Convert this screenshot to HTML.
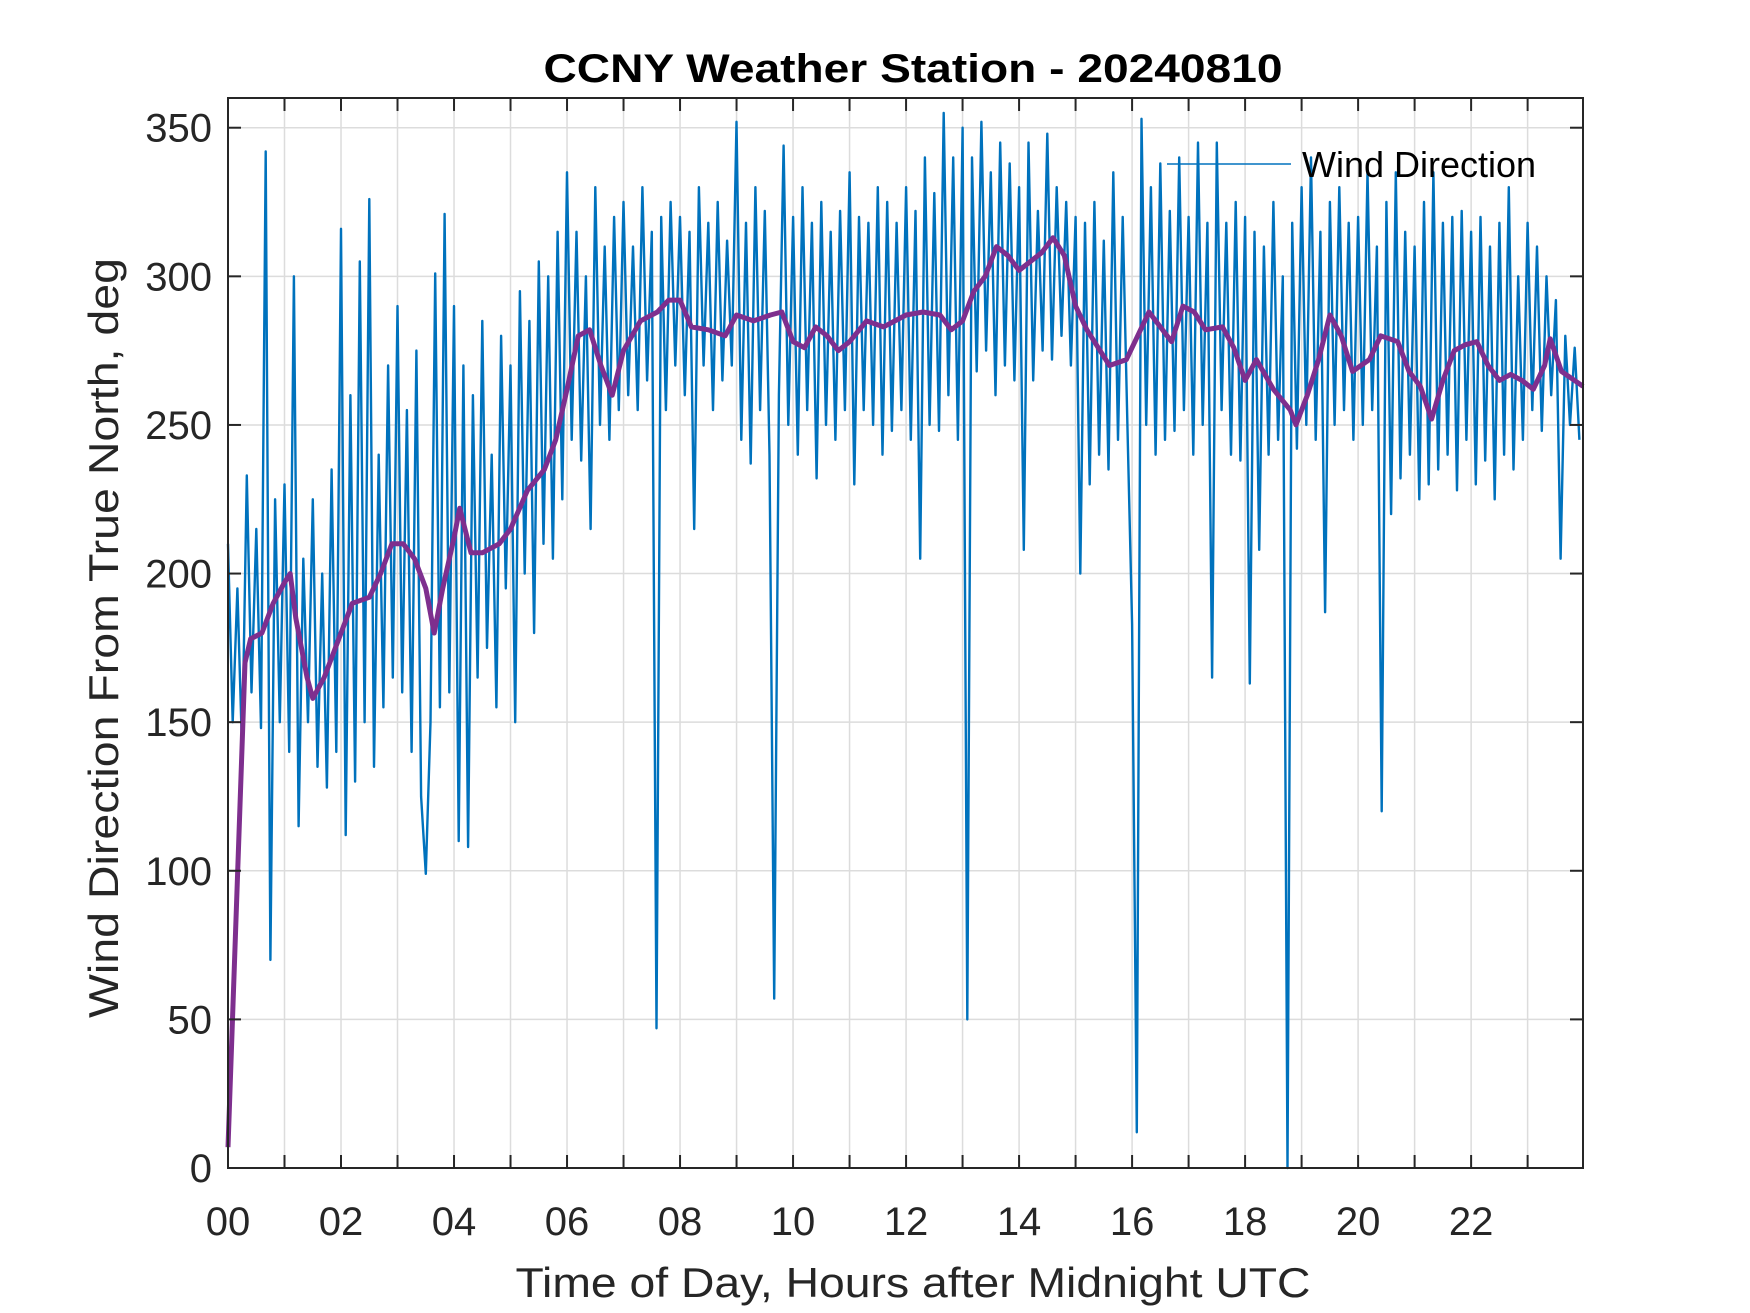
<!DOCTYPE html>
<html><head><meta charset="utf-8"><style>
html,body{margin:0;padding:0;background:#fff}
svg{display:block;font-family:"Liberation Sans",Arial,sans-serif}
</style></head><body>
<svg id="chart" width="1750" height="1313" viewBox="0 0 1750 1313" xmlns="http://www.w3.org/2000/svg">
<rect width="1750" height="1313" fill="#fff"/>
<g id="grid"></g>
<g id="series"></g>
<g id="axes"></g>
<text x="913" y="82" text-anchor="middle" font-size="40" font-weight="bold" fill="#000" textLength="739" lengthAdjust="spacingAndGlyphs">CCNY Weather Station - 20240810</text>
<text x="913" y="1297" text-anchor="middle" font-size="42" fill="#262626" textLength="795" lengthAdjust="spacingAndGlyphs">Time of Day, Hours after Midnight UTC</text>
<text transform="translate(118,638) rotate(-90)" text-anchor="middle" font-size="42" fill="#262626" textLength="760" lengthAdjust="spacingAndGlyphs">Wind Direction From True North, deg</text>
<g>
<line x1="1167" y1="164" x2="1291" y2="164" stroke="#0072BD" stroke-width="1.6"/>
<text x="1302" y="177" font-size="36" fill="#000">Wind Direction</text>
</g>
</svg>
<script>
const xTicks = [0,2,4,6,8,10,12,14,16,18,20,22];
const xTickLabels = ["00","02","04","06","08","10","12","14","16","18","20","22"];
const yTicks = [0,50,100,150,200,250,300,350];
const rawValues = [
210,150,195,140,233,160,215,148,342,70,225,150,
230,140,300,115,205,150,225,135,200,128,235,140,
316,112,260,130,305,150,326,135,240,155,270,165,
290,160,255,140,275,125,99,150,301,155,321,160,
290,110,270,108,260,165,285,175,240,155,280,195,
270,150,295,200,285,180,305,210,300,205,315,225,
335,245,315,238,300,215,330,250,310,245,320,255,
325,260,310,255,330,265,315,47,320,255,325,270,
320,260,315,215,330,270,318,255,325,265,312,270,
352,245,318,237,330,255,322,240,57,260,344,250,
320,240,330,255,318,232,325,250,315,245,322,255,
335,230,320,255,318,250,330,240,325,248,318,255,
330,245,322,205,340,250,328,248,355,260,340,245,
350,50,340,268,352,275,335,260,345,270,338,265,
330,208,345,265,322,275,348,272,330,280,325,270,
320,200,318,230,325,240,312,235,335,245,320,250,
183,12,353,250,330,240,338,245,322,248,340,255,
320,240,345,250,318,165,345,255,318,240,325,238,
320,163,315,208,310,240,325,245,300,0,318,242,
330,250,340,245,315,187,325,250,330,255,318,245,
320,250,335,255,310,120,325,220,335,232,315,240,
310,225,325,230,335,235,318,240,320,228,322,245,
315,230,320,238,310,225,318,240,330,235,300,245,
318,255,310,248,300,260,292,205,280,250,276,245];
const avgHours = [0,0.3,0.4,0.6,0.8,1.0,1.1,1.2,1.4,1.5,1.7,1.9,2.0,2.2,2.5,2.7,2.9,3.1,3.3,3.5,3.65,3.8,4.0,4.1,4.3,4.5,4.8,5.0,5.3,5.6,5.8,6.0,6.2,6.4,6.6,6.8,7.0,7.3,7.6,7.8,8.0,8.2,8.5,8.8,9.0,9.3,9.6,9.8,10.0,10.2,10.4,10.6,10.8,11.0,11.3,11.6,12.0,12.3,12.6,12.8,13.0,13.2,13.4,13.6,13.8,14.0,14.2,14.4,14.6,14.8,15.0,15.2,15.4,15.6,15.9,16.1,16.3,16.5,16.7,16.9,17.1,17.3,17.6,17.8,18.0,18.2,18.5,18.8,18.9,19.1,19.3,19.5,19.7,19.9,20.2,20.4,20.7,20.9,21.1,21.3,21.5,21.7,21.9,22.1,22.3,22.5,22.7,22.9,23.1,23.3,23.4,23.6,23.98];
const avgValues = [7,170,178,180,190,197,200,185,165,158,165,175,180,190,192,200,210,210,205,195,180,195,212,222,207,207,210,215,228,235,245,262,280,282,270,260,275,285,288,292,292,283,282,280,287,285,287,288,278,276,283,280,275,278,285,283,287,288,287,282,285,295,300,310,307,302,305,308,313,307,290,282,276,270,272,280,288,283,278,290,288,282,283,276,265,272,262,255,250,260,272,287,280,268,272,280,278,268,263,252,265,275,277,278,270,265,267,265,262,270,279,268,263];

const L=228,R=1583,T=98,B=1168,XMAX=23.98,YMAX=360;
const sx=h=>L+(R-L)*h/XMAX, sy=v=>B-(B-T)*v/YMAX;
const NS="http://www.w3.org/2000/svg";
function mk(tag,attrs,parent){const e=document.createElementNS(NS,tag);for(const k in attrs)e.setAttribute(k,attrs[k]);parent.appendChild(e);return e;}
const grid=document.getElementById('grid'),axes=document.getElementById('axes'),series=document.getElementById('series');
for(let h=1;h<24;h++){
  const gl=mk('line',{x1:sx(h),x2:sx(h),y1:T,y2:B,stroke:'#dcdcdc','stroke-width':1.5},grid);
  
  
  for(const [a,b] of [[B,B-13],[T,T+13]]){
    const tk=mk('line',{x1:sx(h),x2:sx(h),y1:a,y2:b,stroke:'#262626','stroke-width':2},axes);
    
    
  }
}
yTicks.forEach(v=>{
  if(v>0){
    const gl=mk('line',{x1:L,x2:R,y1:sy(v),y2:sy(v),stroke:'#dcdcdc','stroke-width':1.5},grid);
    
    
  }
  for(const [a,b] of [[L,L+13],[R,R-13]]){
    const tk=mk('line',{x1:a,x2:b,y1:sy(v),y2:sy(v),stroke:'#262626','stroke-width':2},axes);
    
    
  }
  const t=mk('text',{x:212,y:sy(v)+14,'text-anchor':'end','font-size':40,fill:'#262626'},axes);
  t.textContent=v;
  
  
});
xTicks.forEach((h,i)=>{
  const t=mk('text',{x:sx(h),y:1235,'text-anchor':'middle','font-size':40,fill:'#262626'},axes);
  t.textContent=xTickLabels[i];
  
  
});
const rawPts=rawValues.map((v,i)=>sx(i/12).toFixed(1)+','+sy(v).toFixed(1)).join(' ');
const rl=mk('polyline',{points:rawPts,fill:'none',stroke:'#0072BD','stroke-width':2.4,'stroke-linejoin':'round'},series);


const avgPts=avgValues.map((v,i)=>sx(avgHours[i]).toFixed(1)+','+sy(v).toFixed(1)).join(' ');
const al=mk('polyline',{points:avgPts,fill:'none',stroke:'#7E2F8E','stroke-width':5,'stroke-linejoin':'round'},series);


const box=mk('rect',{x:L,y:T,width:R-L,height:B-T,fill:'none',stroke:'#262626','stroke-width':2},axes);


</script>
</body></html>
